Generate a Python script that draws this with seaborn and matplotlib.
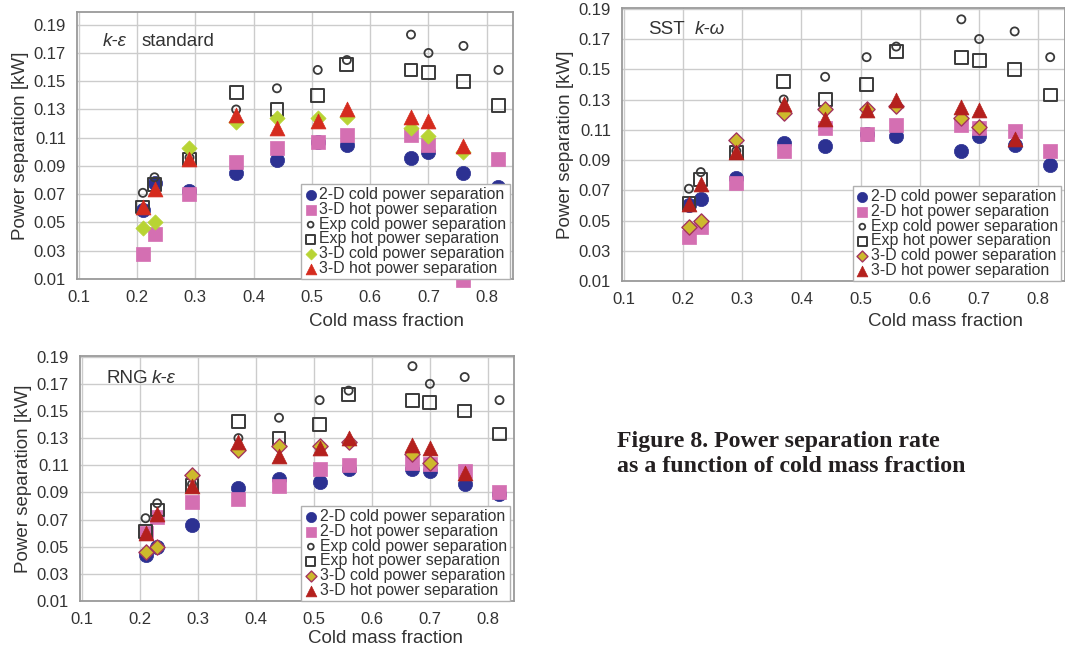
import numpy as np
import matplotlib
matplotlib.use("Agg")
import matplotlib.pyplot as plt
import seaborn as sns

nan = np.nan
cold_mass_fraction = [0.21, 0.23, 0.29, 0.37, 0.44, 0.51, 0.56, 0.67, 0.70, 0.76, 0.82]
x_ticks = [0.1, 0.2, 0.3, 0.4, 0.5, 0.6, 0.7, 0.8]
y_ticks = [0.01, 0.03, 0.05, 0.07, 0.09, 0.11, 0.13, 0.15, 0.17, 0.19]

exp_cold = [0.071, 0.082, 0.096, 0.130, 0.145, 0.158, 0.165, 0.183, 0.170, 0.175, 0.158]
exp_hot = [0.061, 0.077, 0.095, 0.142, 0.130, 0.140, 0.162, 0.158, 0.156, 0.150, 0.133]

# k-epsilon standard
std_cold2d = [0.059, 0.078, 0.072, 0.085, 0.094, 0.107, 0.105, 0.096, 0.100, 0.085, 0.075]
std_hot2d = [0.028, 0.042, 0.070, 0.093, 0.103, 0.107, 0.112, 0.112, 0.105, 0.009, 0.095]
std_cold3d = [0.046, 0.050, 0.103, 0.121, 0.124, 0.124, 0.125, 0.117, 0.111, 0.100, nan]
std_hot3d = [0.061, 0.074, 0.095, 0.126, 0.117, 0.122, 0.130, 0.125, 0.122, 0.104, nan]

# SST k-omega
sst_cold2d = [0.060, 0.064, 0.078, 0.101, 0.099, 0.107, 0.106, 0.096, 0.106, 0.100, 0.087]
sst_hot2d = [0.039, 0.046, 0.075, 0.096, 0.111, 0.107, 0.113, 0.113, 0.111, 0.109, 0.096]
sst_cold3d = [0.046, 0.050, 0.103, 0.121, 0.124, 0.124, 0.126, 0.118, 0.112, nan, nan]
sst_hot3d = [0.061, 0.074, 0.095, 0.127, 0.117, 0.123, 0.130, 0.125, 0.123, 0.104, nan]

# RNG k-epsilon
rng_cold2d = [0.044, 0.050, 0.066, 0.093, 0.100, 0.098, 0.107, 0.107, 0.106, 0.096, 0.089]
rng_hot2d = [0.060, 0.072, 0.083, 0.085, 0.095, 0.107, 0.110, 0.112, 0.111, 0.106, 0.090]
rng_cold3d = [0.046, 0.050, 0.103, 0.121, 0.124, 0.124, 0.127, 0.118, 0.112, nan, nan]
rng_hot3d = [0.060, 0.074, 0.095, 0.127, 0.117, 0.123, 0.130, 0.125, 0.123, 0.104, nan]

labels_std = ["2-D cold power separation", "3-D hot power separation",
              "Exp cold power separation", "Exp hot power separation",
              "3-D cold power separation", "3-D hot power separation"]
labels_other = ["2-D cold power separation", "2-D hot power separation",
                "Exp cold power separation", "Exp hot power separation",
                "3-D cold power separation", "3-D hot power separation"]

sns.set_style("whitegrid")
plt.rcParams['font.family'] = ['Liberation Sans', 'DejaVu Sans']

BLUE = "#2c3192"
PINK = "#d46fb2"
GRAY = "#3a3a3a"
GREEN = "#b8d434"
OLIVE = "#cdb92c"
DIAM_EDGE = "#a3355e"
RED1 = "#d52b1e"
RED2 = "#b4201d"

fig = plt.figure(figsize=(10.65, 6.5), dpi=100)
W, H = 1065, 650


def add_axes(l, r, t, b):
    return fig.add_axes([l / W, 1 - b / H, (r - l) / W, (b - t) / H])


def panel(ax, cold2d, hot2d, cold3d, hot3d, labels, variant, ytop, leg_x, xlab_x, xlab_y):
    x = cold_mass_fraction
    sns.scatterplot(x=x, y=cold2d, ax=ax, marker="o", s=105, color=BLUE,
                    edgecolor=BLUE, linewidth=0.5, label=labels[0], clip_on=False, zorder=3)
    sns.scatterplot(x=x, y=hot2d, ax=ax, marker="s", s=105, color=PINK,
                    edgecolor=PINK, linewidth=0.5, label=labels[1], clip_on=False, zorder=3)
    sns.scatterplot(x=x, y=exp_cold, ax=ax, marker="o", s=34, facecolor="none",
                    edgecolor=GRAY, linewidth=1.3, label=labels[2], zorder=3)
    sns.scatterplot(x=x, y=exp_hot, ax=ax, marker="s", s=85, facecolor="none",
                    edgecolor=GRAY, linewidth=1.4, label=labels[3], zorder=3)
    if variant == "std":
        sns.scatterplot(x=x, y=cold3d, ax=ax, marker="D", s=60, color=GREEN,
                        edgecolor=GREEN, linewidth=0.5, label=labels[4], zorder=3)
        sns.scatterplot(x=x, y=hot3d, ax=ax, marker="^", s=115, color=RED1,
                        edgecolor=RED1, linewidth=0.5, label=labels[5], zorder=3)
    else:
        sns.scatterplot(x=x, y=cold3d, ax=ax, marker="D", s=60, color=OLIVE,
                        edgecolor=DIAM_EDGE, linewidth=1.0, label=labels[4], zorder=3)
        sns.scatterplot(x=x, y=hot3d, ax=ax, marker="^", s=115, color=RED2,
                        edgecolor=RED2, linewidth=0.5, label=labels[5], zorder=3)

    ax.set_xlim(0.097, 0.845)
    ax.set_ylim(0.01, ytop)
    ax.set_xticks(x_ticks)
    ax.set_xticklabels([f"{v:.1f}" for v in x_ticks])
    ax.set_yticks(y_ticks)
    ax.set_yticklabels([f"{v:.2f}" for v in y_ticks])
    ax.grid(True, color="#cccccc", linewidth=1.0)
    ax.set_axisbelow(True)
    for sp in ax.spines.values():
        sp.set_color("#9a9a9a")
        sp.set_linewidth(1.3)
    ax.tick_params(axis="both", labelsize=12, colors="#333333", length=3,
                   width=0.8, pad=5)
    ax.tick_params(axis="both", color="#9a9a9a")
    ax.set_xlabel("Cold mass fraction", fontsize=13.5, color="#333333")
    ax.set_ylabel("Power separation [kW]", fontsize=13.5, color="#333333", labelpad=3)
    ax.xaxis.set_label_coords(xlab_x, xlab_y)
    ax.xaxis.label.set_verticalalignment("center")

    leg = ax.legend(loc="lower left", bbox_to_anchor=(leg_x, 0.0), borderaxespad=0.0,
                    fontsize=11.4, labelspacing=-0.02, handletextpad=0.15,
                    handlelength=0.8, borderpad=0.2, markerscale=0.72,
                    frameon=True, fancybox=False,
                    framealpha=1.0, edgecolor="#b0b0b0")
    leg.get_frame().set_linewidth(1.0)
    leg.set_zorder(10)
    for t in leg.get_texts():
        t.set_color("#333333")
    return leg


ax1 = add_axes(77, 513, 12, 279)
panel(ax1, std_cold2d, std_hot2d, std_cold3d, std_hot3d, labels_std, "std", 0.199,
      0.514, 0.71, -0.161)
ax1.text(0.06, 0.888, "k-ε", transform=ax1.transAxes, fontsize=13.5, style="italic",
         color="#333333", va="center", ha="left")
ax1.text(0.149, 0.888, "standard", transform=ax1.transAxes, fontsize=13.5,
         color="#333333", va="center", ha="left")

ax2 = add_axes(622, 1065, 8, 281)
panel(ax2, sst_cold2d, sst_hot2d, sst_cold3d, sst_hot3d, labels_other, "sst", 0.1905,
      0.521, 0.73, -0.15)
ax2.text(0.059, 0.92, "SST", transform=ax2.transAxes, fontsize=13.5,
         color="#333333", va="center", ha="left")
ax2.text(0.165, 0.92, "k-ω", transform=ax2.transAxes, fontsize=13.5, style="italic",
         color="#333333", va="center", ha="left")

ax3 = add_axes(80, 514, 356, 601)
panel(ax3, rng_cold2d, rng_hot2d, rng_cold3d, rng_hot3d, labels_other, "rng", 0.1905,
      0.51, 0.705, -0.155)
ax3.text(0.062, 0.91, "RNG", transform=ax3.transAxes, fontsize=13.5,
         color="#333333", va="center", ha="left")
ax3.text(0.165, 0.91, "k-ε", transform=ax3.transAxes, fontsize=13.5, style="italic",
         color="#333333", va="center", ha="left")

fig.text(617 / W, 1 - 454 / H, "Figure 8. Power separation rate\nas a function of cold mass fraction",
         fontsize=17.2, fontweight="bold", family=["Liberation Serif", "DejaVu Serif"],
         color="#231f20", va="center", ha="left", linespacing=1.25)

fig.savefig("out.png", dpi=100, facecolor="white")
